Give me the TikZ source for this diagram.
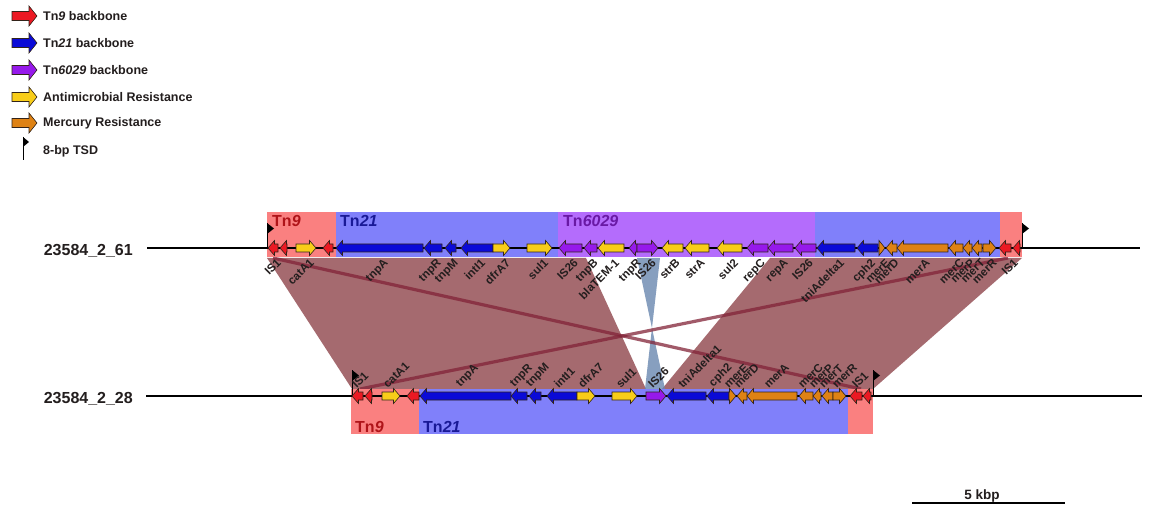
\documentclass[tikz,border=0pt]{standalone}
\usepackage{fontspec}
\setmainfont{Liberation Sans}
\definecolor{gred}{RGB}{235,25,35}
\definecolor{gblue}{RGB}{10,10,215}
\definecolor{gpurple}{RGB}{150,25,235}
\definecolor{gyellow}{RGB}{248,205,25}
\definecolor{gorange}{RGB}{222,130,20}
\definecolor{bred}{RGB}{250,128,128}
\definecolor{bblue}{RGB}{128,128,250}
\definecolor{bpurple}{RGB}{180,108,252}
\definecolor{brownpoly}{RGB}{165,106,111}
\definecolor{darkline}{RGB}{130,35,55}
\definecolor{hgcol}{RGB}{105,135,175}
\definecolor{tnred}{RGB}{175,20,25}
\definecolor{tnblue}{RGB}{25,25,150}
\definecolor{tnpurple}{RGB}{105,25,165}
\definecolor{labcol}{RGB}{35,30,30}
\definecolor{outl}{RGB}{50,35,25}
\tikzset{
  genestyle/.style={draw=outl, line width=0.6pt, line join=miter},
  toplab/.style={rotate=45, anchor=north east, inner sep=0.5pt, text=labcol, font=\fontsize{11.5}{11.5}\selectfont\bfseries},
  botlab/.style={rotate=45, anchor=south west, inner sep=0.5pt, text=labcol, font=\fontsize{11.5}{11.5}\selectfont\bfseries},
  leglab/.style={anchor=west, inner sep=0pt, text=labcol, font=\fontsize{12.5}{12.5}\selectfont\bfseries},
  tnlab/.style={anchor=base west, inner sep=0pt, font=\fontsize{16}{16}\selectfont\bfseries},
  trackname/.style={anchor=base east, inner sep=0pt, text=labcol, font=\fontsize{16}{16}\selectfont\bfseries},
  trackline/.style={line width=2pt, draw=black},
  flagstyle/.style={line width=1pt, draw=black},
}
\newcount\labn
\newcommand\gn[5]{%
  \pgfmathsetmacro\hl{min(6.5,#2-#1)}%
  \ifx#3R
    \draw[genestyle,fill=#4] (#1,#5-4) -- (#2-\hl,#5-4) -- (#2-\hl,#5-7.5) -- (#2,#5) -- (#2-\hl,#5+7.5) -- (#2-\hl,#5+4) -- (#1,#5+4) -- cycle;
  \else
    \draw[genestyle,fill=#4] (#2,#5-4) -- (#1+\hl,#5-4) -- (#1+\hl,#5-7.5) -- (#1,#5) -- (#1+\hl,#5+7.5) -- (#1+\hl,#5+4) -- (#2,#5+4) -- cycle;
  \fi}
\newcommand\tl[2]{\global\advance\labn by 1 \node[toplab] (T\the\labn) at (#1+3,257) {#2};}
\newcommand\bl[2]{\global\advance\labn by 1 \node[botlab] (B\the\labn) at (#1-3,390) {#2};}
\newcommand\legarrow[2]{%
  \draw[genestyle,fill=#2] (12,#1-4.5) -- (29,#1-4.5) -- (29,#1-10) -- (37,#1) -- (29,#1+10) -- (29,#1+4.5) -- (12,#1+4.5) -- cycle;}
\newcommand\flag[3]{% x, ytop, ybottom
  \draw[flagstyle] (#1,#2) -- (#1,#3);
  \fill[black] (#1,#2) -- (#1+7,#2+5.5) -- (#1,#2+11) -- cycle;}
\begin{document}
\begin{tikzpicture}[x=1pt,y=-1pt]
\useasboundingbox (0,0) rectangle (1149,505);
\fill[white] (0,0) rectangle (1149,505);

% ---------- legend ----------
\legarrow{16}{gred}
\legarrow{43}{gblue}
\legarrow{70}{gpurple}
\legarrow{97}{gyellow}
\legarrow{123}{gorange}
\node[leglab] (leg1) at (43,16) {Tn\textit{9} backbone};
\node[leglab] (leg2) at (43,43) {Tn\textit{21} backbone};
\node[leglab] (leg3) at (43,70) {Tn\textit{6029} backbone};
\node[leglab] (leg4) at (43,97) {Antimicrobial Resistance};
\node[leglab] (leg5) at (43,123) {Mercury Resistance};
\draw[flagstyle] (23,137) -- (23,160);
\fill[black] (23,137) -- (29,142) -- (23,147) -- cycle;
\node[leglab] (leg6) at (43,151) {8-bp TSD};

% ---------- alignment polygons ----------
\fill[brownpoly] (267,258) -- (586,258) -- (646,389) -- (352,389) -- cycle;
\fill[brownpoly] (770,258) -- (1022,258) -- (873,389) -- (662,389) -- cycle;
\fill[hgcol, opacity=0.8] (637,258) -- (660,258) -- (645,389) -- (665,389) -- cycle;
\coordinate (a1) at (273,258);
\coordinate (a2) at (861,389);
\coordinate (b1) at (1008,258);
\coordinate (b2) at (360,389);
\draw[darkline, opacity=0.75, line width=3.2pt] (a1) -- (a2);
\draw[darkline, opacity=0.75, line width=3.2pt] (b1) -- (b2);

% ---------- top track bands ----------
\fill[bred] (267,212) rectangle (336,257);
\fill[bblue] (336,212) rectangle (558,257);
\fill[bpurple] (558,212) rectangle (815,257);
\fill[bblue] (815,212) rectangle (1000,257);
\fill[bred] (1000,212) rectangle (1022,257);
\node[tnlab, text=tnred] (tn9a) at (272,226.5) {Tn\textit{9}};
\node[tnlab, text=tnblue] (tn21a) at (340,226.5) {Tn\textit{21}};
\node[tnlab, text=tnpurple] (tn6029) at (563,226.5) {Tn\textit{6029}};

% ---------- bottom track bands ----------
\fill[bred] (351,389) rectangle (419,434);
\fill[bblue] (419,389) rectangle (848,434);
\fill[bred] (848,389) rectangle (873,434);
\node[tnlab, text=tnred] (tn9b) at (355,432) {Tn\textit{9}};
\node[tnlab, text=tnblue] (tn21b) at (423,432) {Tn\textit{21}};

% ---------- track lines ----------
\node[trackname] (n61) at (133,255) {23584\_2\_61};
\node[trackname] (n28) at (133,403) {23584\_2\_28};
\coordinate (t0) at (147,248);
\coordinate (t1) at (1140,248);
\coordinate (u0) at (146,396);
\coordinate (u1) at (1142,396);
\draw[trackline] (t0) -- (t1);
\draw[trackline] (u0) -- (u1);

% ---------- flags ----------
\flag{267}{223}{248}
\flag{1022}{223}{248}
\flag{352}{370}{396}
\flag{873}{370}{396}

% ---------- top genes ----------
\gn{268}{278}{L}{gred}{248}
\gn{280}{287}{L}{gred}{248}
\gn{296}{316}{R}{gyellow}{248}
\gn{323}{333}{L}{gred}{248}
\gn{336}{423}{L}{gblue}{248}
\gn{424}{442}{L}{gblue}{248}
\gn{445}{456}{L}{gblue}{248}
\gn{461}{493}{L}{gblue}{248}
\gn{493}{510}{R}{gyellow}{248}
\gn{527}{552}{R}{gyellow}{248}
\gn{559}{582}{L}{gpurple}{248}
\gn{584}{597}{L}{gpurple}{248}
\gn{598}{624}{L}{gyellow}{248}
\gn{629}{637}{L}{gpurple}{248}
\gn{637}{658}{R}{gpurple}{248}
\gn{662}{683}{L}{gyellow}{248}
\gn{685}{709}{L}{gyellow}{248}
\gn{717}{742}{L}{gyellow}{248}
\gn{747}{768}{L}{gpurple}{248}
\gn{768}{793}{L}{gpurple}{248}
\gn{795}{816}{L}{gpurple}{248}
\gn{817}{855}{L}{gblue}{248}
\gn{857}{878}{L}{gblue}{248}
\gn{879}{885}{R}{gorange}{248}
\gn{886}{897}{L}{gorange}{248}
\gn{897}{948}{L}{gorange}{248}
\gn{949}{963}{L}{gorange}{248}
\gn{963}{972}{L}{gorange}{248}
\gn{972}{982}{L}{gorange}{248}
\gn{983}{996}{R}{gorange}{248}
\gn{999}{1011}{L}{gred}{248}
\gn{1013}{1020}{L}{gred}{248}

% top labels
\tl{273}{IS1}
\tl{306}{catA1}
\tl{380}{tnpA}
\tl{433}{tnpR}
\tl{450}{tnpM}
\tl{477}{intI1}
\tl{502}{dfrA7}
\tl{540}{sul1}
\tl{570}{IS26}
\tl{590}{tnpB}
\tl{611}{blaTEM-1}
\tl{633}{tnpR}
\tl{648}{IS26}
\tl{672}{strB}
\tl{697}{strA}
\tl{730}{sul2}
\tl{757}{repC}
\tl{780}{repA}
\tl{805}{IS26}
\tl{836}{tniAdelta1}
\tl{867}{cph2}
\tl{882}{merE}
\tl{891}{merD}
\tl{922}{merA}
\tl{956}{merC}
\tl{967}{merP}
\tl{977}{merT}
\tl{989}{merR}
\tl{1010}{IS1}

% ---------- bottom genes ----------
\gn{352}{363}{L}{gred}{396}
\gn{365}{372}{L}{gred}{396}
\gn{382}{400}{R}{gyellow}{396}
\gn{407}{419}{L}{gred}{396}
\gn{420}{511}{L}{gblue}{396}
\gn{511}{527}{L}{gblue}{396}
\gn{529}{541}{L}{gblue}{396}
\gn{547}{577}{L}{gblue}{396}
\gn{577}{595}{R}{gyellow}{396}
\gn{612}{637}{R}{gyellow}{396}
\gn{646}{666}{R}{gpurple}{396}
\gn{667}{706}{L}{gblue}{396}
\gn{707}{729}{L}{gblue}{396}
\gn{729}{736}{R}{gorange}{396}
\gn{737}{747}{L}{gorange}{396}
\gn{747}{797}{L}{gorange}{396}
\gn{799}{813}{L}{gorange}{396}
\gn{813}{821}{L}{gorange}{396}
\gn{822}{833}{L}{gorange}{396}
\gn{833}{846}{R}{gorange}{396}
\gn{850}{862}{L}{gred}{396}
\gn{863}{871}{L}{gred}{396}

% bottom labels
\bl{360}{IS1}
\bl{391}{catA1}
\bl{465}{tnpA}
\bl{519}{tnpR}
\bl{535}{tnpM}
\bl{562}{intI1}
\bl{586}{dfrA7}
\bl{624}{sul1}
\bl{656}{IS26}
\bl{686}{tniAdelta1}
\bl{718}{cph2}
\bl{732}{merE}
\bl{742}{merD}
\bl{772}{merA}
\bl{806}{merC}
\bl{817}{merP}
\bl{827}{merT}
\bl{840}{merR}
\bl{860}{IS1}

% ---------- scale bar ----------
\coordinate (s0) at (912,503);
\coordinate (s1) at (1065,503);
\draw[line width=1.2pt, draw=black] (s0) -- (s1);
\node[anchor=base, inner sep=0pt, text=labcol, font=\fontsize{13.5}{13.5}\selectfont\bfseries] (scale) at (982,499) {5 kbp};
\end{tikzpicture}
\end{document}
